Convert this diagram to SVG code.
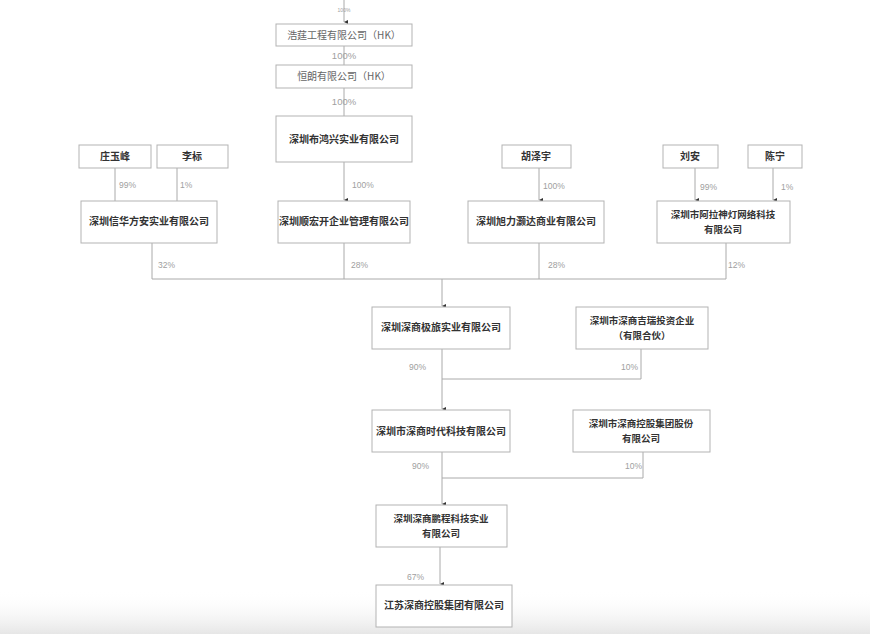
<svg xmlns="http://www.w3.org/2000/svg" width="870" height="634" viewBox="0 0 870 634">
<defs>
<marker id="arr" viewBox="0 0 6 6" refX="3" refY="6" markerWidth="4" markerHeight="4" markerUnits="userSpaceOnUse" orient="auto-start-reverse">
<path d="M0,0 L6,0 L3,6 Z" fill="#333"/>
</marker>
<linearGradient id="fade" x1="0" y1="0" x2="0" y2="1">
<stop offset="0" stop-color="#ffffff" stop-opacity="0"/>
<stop offset="1" stop-color="#e6e6e6"/>
</linearGradient>
<style>
.box{fill:#fff;stroke:#b3b3b3;stroke-width:1}
.t{font-family:"Noto Sans CJK SC","Liberation Sans",sans-serif;font-size:10px;font-weight:bold;fill:#333;text-anchor:middle}
.t2{font-family:"Noto Sans CJK SC","Liberation Sans",sans-serif;font-size:9.5px;font-weight:bold;fill:#333;text-anchor:middle}
.g{font-family:"Noto Sans CJK SC","Liberation Sans",sans-serif;font-size:10px;fill:#666;text-anchor:middle}
.p{font-family:"Liberation Sans",sans-serif;font-size:8.5px;fill:#a0a0a0}
.ln{fill:none;stroke:#aaa;stroke-width:1}
.la{fill:none;stroke:#aaa;stroke-width:1;marker-end:url(#arr)}
</style>
</defs>
<rect width="870" height="634" fill="#fff"/>
<rect x="0" y="590" width="870" height="44" fill="url(#fade)"/>

<g id="connectors">
<line class="la" x1="344" y1="0" x2="344" y2="22"/>
<line class="ln" x1="344" y1="46" x2="344" y2="65"/>
<line class="ln" x1="344" y1="88" x2="344" y2="116"/>
<line class="la" x1="344" y1="162" x2="344" y2="200"/>
<line class="ln" x1="115" y1="168" x2="115" y2="201"/>
<line class="ln" x1="177" y1="168" x2="177" y2="201"/>
<line class="la" x1="539" y1="168" x2="539" y2="200"/>
<line class="la" x1="695" y1="168" x2="695" y2="200"/>
<line class="la" x1="773" y1="168" x2="773" y2="200"/>
<path class="ln" d="M152,243 V279 H726 V243"/>
<line class="ln" x1="344" y1="243" x2="344" y2="279"/>
<line class="ln" x1="539" y1="243" x2="539" y2="279"/>
<line class="la" x1="442" y1="279" x2="442" y2="306"/>
<path class="ln" d="M442,379 H641 V349"/>
<line class="la" x1="442" y1="349" x2="442" y2="409"/>
<path class="ln" d="M442,478 H643 V452"/>
<line class="la" x1="442" y1="452" x2="442" y2="504"/>
<line class="la" x1="440" y1="547" x2="440" y2="584"/>
</g>

<g id="labels">
<text class="p" x="344" y="12" text-anchor="middle" style="font-size:5px">100%</text>
<text class="p" x="344" y="59" text-anchor="middle" style="font-size:9.5px">100%</text>
<text class="p" x="344" y="105" text-anchor="middle" style="font-size:9.5px">100%</text>
<text class="p" x="352" y="188">100%</text>
<text class="p" x="119" y="188">99%</text>
<text class="p" x="180" y="188">1%</text>
<text class="p" x="543" y="189">100%</text>
<text class="p" x="700" y="190">99%</text>
<text class="p" x="781" y="190">1%</text>
<text class="p" x="158" y="268">32%</text>
<text class="p" x="351" y="268">28%</text>
<text class="p" x="548" y="268">28%</text>
<text class="p" x="728" y="268">12%</text>
<text class="p" x="409" y="370">90%</text>
<text class="p" x="621" y="370">10%</text>
<text class="p" x="412" y="469">90%</text>
<text class="p" x="625" y="469">10%</text>
<text class="p" x="407" y="580">67%</text>
</g>

<g id="n_haoting"><rect class="box" x="276" y="24" width="136" height="22"/><text class="g" x="344" y="39">浩莛工程有限公司（HK）</text></g>
<g id="n_henglang"><rect class="box" x="276" y="65" width="136" height="23"/><text class="g" x="344" y="80">恒朗有限公司（HK）</text></g>
<g id="n_buhongxing"><rect class="box" x="276" y="116" width="136" height="46"/><text class="t" x="344" y="143">深圳布鸿兴实业有限公司</text></g>
<g id="n_zhuang"><rect class="box" x="79" y="145" width="72" height="23"/><text class="t" x="115" y="160">庄玉峰</text></g>
<g id="n_li"><rect class="box" x="157" y="145" width="71" height="23"/><text class="t" x="192" y="160">李标</text></g>
<g id="n_hu"><rect class="box" x="502" y="145" width="69" height="23"/><text class="t" x="536" y="160">胡泽宇</text></g>
<g id="n_liu"><rect class="box" x="663" y="145" width="55" height="23"/><text class="t" x="690" y="160">刘安</text></g>
<g id="n_chen"><rect class="box" x="748" y="145" width="54" height="23"/><text class="t" x="775" y="160">陈宁</text></g>
<g id="n_xinhua"><rect class="box" x="81" y="201" width="136" height="42"/><text class="t" x="149" y="225">深圳信华方安实业有限公司</text></g>
<g id="n_shunhong"><rect class="box" x="278" y="201" width="132" height="42"/><text class="t" x="344" y="225">深圳顺宏开企业管理有限公司</text></g>
<g id="n_xuli"><rect class="box" x="468" y="201" width="136" height="42"/><text class="t" x="536" y="225">深圳旭力灏达商业有限公司</text></g>
<g id="n_alashendeng"><rect class="box" x="657" y="201" width="133" height="42"/><text class="t2" x="723" y="218">深圳市阿拉神灯网络科技</text><text class="t2" x="723" y="233">有限公司</text></g>
<g id="n_jilv"><rect class="box" x="372" y="307" width="138" height="42"/><text class="t" x="441" y="331">深圳深商极旅实业有限公司</text></g>
<g id="n_jirui"><rect class="box" x="576" y="307" width="132" height="42"/><text class="t2" x="642" y="324">深圳市深商吉瑞投资企业</text><text class="t2" x="642" y="339">（有限合伙）</text></g>
<g id="n_shidai"><rect class="box" x="372" y="410" width="138" height="42"/><text class="t" x="441" y="435">深圳市深商时代科技有限公司</text></g>
<g id="n_konggu"><rect class="box" x="573" y="410" width="137" height="42"/><text class="t2" x="641" y="427">深圳市深商控股集团股份</text><text class="t2" x="641" y="442">有限公司</text></g>
<g id="n_pengcheng"><rect class="box" x="376" y="505" width="131" height="42"/><text class="t2" x="441" y="522">深圳深商鹏程科技实业</text><text class="t2" x="441" y="537">有限公司</text></g>
<g id="n_jiangsu"><rect class="box" x="376" y="585" width="136" height="42"/><text class="t" x="444" y="609">江苏深商控股集团有限公司</text></g>
</svg>
